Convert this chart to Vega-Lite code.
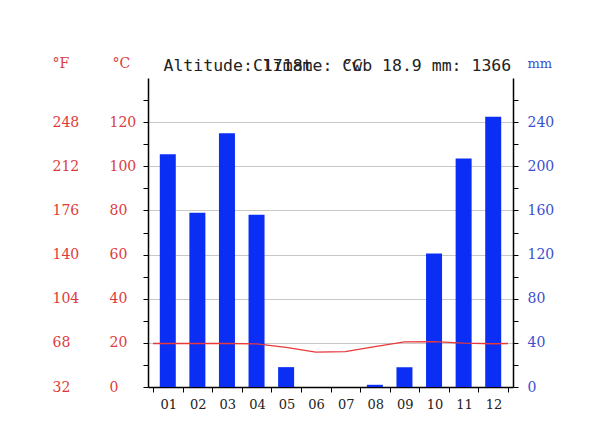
{
  "$schema": "https://vega.github.io/schema/vega-lite/v6.json",
  "width": 365,
  "height": 309,
  "autosize": "none",
  "padding": {"left": 148, "top": 78, "right": 84, "bottom": 54},
  "background": "white",
  "config": {
    "view": {"stroke": null},
    "axis": {
      "labelFont": "DejaVu Serif",
      "titleFont": "DejaVu Serif",
      "titleFontWeight": "normal",
      "domainColor": "#000000",
      "tickColor": "#000000",
      "labelOverlap": false,
      "labelFlush": false
    }
  },
  "datasets": {
    "precip": [
      {"month": 1, "precip": 211},
      {"month": 2, "precip": 158},
      {"month": 3, "precip": 230},
      {"month": 4, "precip": 156},
      {"month": 5, "precip": 18},
      {"month": 6, "precip": 0},
      {"month": 7, "precip": 0},
      {"month": 8, "precip": 2},
      {"month": 9, "precip": 18},
      {"month": 10, "precip": 121},
      {"month": 11, "precip": 207},
      {"month": 12, "precip": 245}
    ],
    "temp": [
      {"month": 0.5, "temp": 19.7},
      {"month": 1, "temp": 19.7},
      {"month": 2, "temp": 19.7},
      {"month": 3, "temp": 19.7},
      {"month": 4, "temp": 19.5},
      {"month": 5, "temp": 18.0},
      {"month": 6, "temp": 15.8},
      {"month": 7, "temp": 16.0},
      {"month": 8, "temp": 18.3},
      {"month": 9, "temp": 20.4},
      {"month": 10, "temp": 20.6},
      {"month": 11, "temp": 19.9},
      {"month": 12, "temp": 19.6},
      {"month": 12.5, "temp": 19.7}
    ]
  },
  "encoding": {
    "x": {
      "field": "month",
      "type": "quantitative",
      "scale": {"domain": [0.5, 12.5], "nice": false, "zero": false},
      "axis": {
        "values": [0.5, 1.5, 2.5, 3.5, 4.5, 5.5, 6.5, 7.5, 8.5, 9.5, 10.5, 11.5, 12.5],
        "labelExpr": "datum.value > 12 ? '' : (datum.value < 9 ? '0' : '') + format(datum.value + 0.5, 'd')",
        "labelOffset": 15.2,
        "labelBound": false,
        "tickSize": 5,
        "labelPadding": 6,
        "labelFontSize": 13,
        "labelColor": "#222222",
        "grid": false,
        "domainWidth": 1.5,
        "title": ["Altitude: 1718m", "\u200b\u00a0\u00a0\u00a0\u00a0\u00a0\u00a0\u00a0\u00a0\u00a0Climate: Cwb 18.9 mm: 1366", "\u200b\u00a0\u00a0\u00a0\u00a0\u00a0\u00a0\u00a0\u00a0\u00a0\u00a0\u00a0\u00a0\u00a0\u00a0\u00a0\u00a0\u00a0\u00a0°C"],
        "titleFont": "DejaVu Sans Mono",
        "titleFontSize": 16.5,
        "titleColor": "#222222",
        "titleX": 15,
        "titleY": -317,
        "titleAlign": "left",
        "titleBaseline": "alphabetic",
        "titleLineHeight": 0.01
      }
    }
  },
  "layer": [
    {
      "data": {"name": "precip"},
      "mark": {"type": "bar", "color": "#0b2ef5", "size": 16},
      "encoding": {
        "y": {
          "field": "precip",
          "type": "quantitative",
          "scale": {"domain": [0, 280], "nice": false},
          "axis": {
            "orient": "right",
            "values": [0, 20, 40, 60, 80, 100, 120, 140, 160, 180, 200, 220, 240, 260],
            "labelExpr": "datum.value % 40 == 0 ? datum.label : ''",
            "labelColor": "#3a4fd0",
            "labelFontSize": 14,
            "tickSize": 5,
            "labelPadding": 9,
            "domainWidth": 1.5,
            "grid": true,
            "gridColor": "#c8c8c8",
            "gridOpacity": {"condition": {"test": "datum.value % 40 == 0 && datum.value > 0", "value": 1}, "value": 0},
            "title": "mm",
            "titleAngle": 0,
            "titleX": 14,
            "titleY": -11,
            "titleAlign": "left",
            "titleBaseline": "alphabetic",
            "titleColor": "#3a4fd0",
            "titleFontSize": 13
          }
        }
      }
    },
    {
      "data": {"name": "temp"},
      "mark": {"type": "line", "color": "#e8393b", "strokeWidth": 1.3},
      "encoding": {
        "y": {
          "field": "temp",
          "type": "quantitative",
          "scale": {"domain": [0, 140], "nice": false},
          "axis": {
            "orient": "left",
            "values": [0, 10, 20, 30, 40, 50, 60, 70, 80, 90, 100, 110, 120, 130],
            "labelExpr": "datum.value % 20 == 0 ? datum.label : ''",
            "labelAlign": "left",
            "labelPadding": 34,
            "labelColor": "#dd3b3b",
            "labelFontSize": 14,
            "tickSize": 5,
            "domainWidth": 1.5,
            "grid": false,
            "title": "°C",
            "titleAngle": 0,
            "titleX": -36,
            "titleY": -11,
            "titleAlign": "left",
            "titleBaseline": "alphabetic",
            "titleColor": "#dd3b3b",
            "titleFontSize": 14
          }
        }
      }
    },
    {
      "data": {"name": "temp"},
      "mark": {"type": "line", "opacity": 0},
      "encoding": {
        "y": {
          "field": "temp",
          "type": "quantitative",
          "scale": {"domain": [0, 140], "nice": false},
          "axis": {
            "orient": "left",
            "values": [0, 20, 40, 60, 80, 100, 120],
            "labelExpr": "format(datum.value * 9 / 5 + 32, 'd')",
            "labelAlign": "left",
            "ticks": false,
            "tickSize": 0,
            "domain": false,
            "labelPadding": 96,
            "labelColor": "#dd3b3b",
            "labelFontSize": 14,
            "grid": false,
            "title": "°F",
            "titleAngle": 0,
            "titleX": -96,
            "titleY": -11,
            "titleAlign": "left",
            "titleBaseline": "alphabetic",
            "titleColor": "#dd3b3b",
            "titleFontSize": 14
          }
        }
      }
    }
  ],
  "resolve": {"scale": {"y": "independent"}, "axis": {"y": "independent"}}
}
